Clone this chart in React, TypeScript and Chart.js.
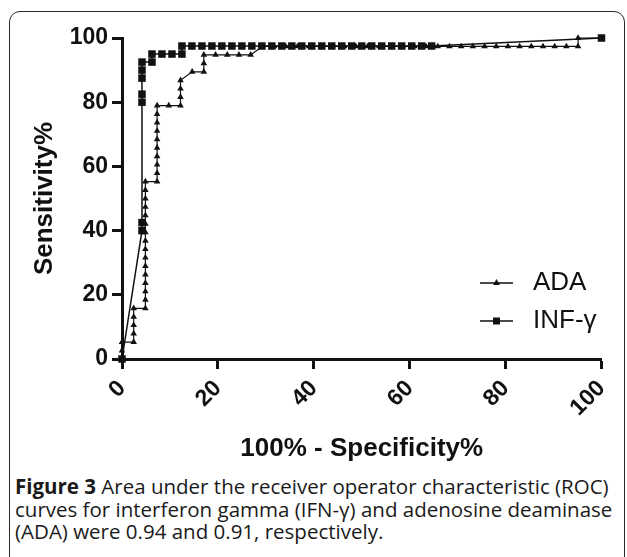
import React, { useEffect, useRef } from 'react';
import { Chart, registerables } from 'chart.js';

Chart.register(...registerables);

// ---- data ----
const seriesNames = ['INF-γ', 'ADA'];

const infX = [0, 4.17, 4.17, 4.17, 4.17, 4.17, 4.17, 4.17, 6.25, 6.25, 8.33, 10.42, 12.5, 12.5, 14.58, 16.67, 18.75, 20.83, 22.92, 25, 27.08, 29.17, 31.25, 33.33, 35.42, 37.5, 39.58, 41.67, 43.75, 45.83, 47.92, 50, 52.08, 54.17, 56.25, 58.33, 60.42, 62.5, 64.58, 100];
const infY = [0, 40, 42.5, 80, 82.5, 87.5, 90, 92.5, 92.5, 95, 95, 95, 95, 97.5, 97.5, 97.5, 97.5, 97.5, 97.5, 97.5, 97.5, 97.5, 97.5, 97.5, 97.5, 97.5, 97.5, 97.5, 97.5, 97.5, 97.5, 97.5, 97.5, 97.5, 97.5, 97.5, 97.5, 97.5, 97.5, 100];

const adaX = [
  0, 0, 0,
  2.44, 2.44, 2.44, 2.44, 2.44,
  4.88, 4.88, 4.88, 4.88, 4.88, 4.88, 4.88, 4.88, 4.88, 4.88, 4.88, 4.88, 4.88, 4.88, 4.88, 4.88,
  7.32, 7.32, 7.32, 7.32, 7.32, 7.32, 7.32, 7.32, 7.32, 7.32,
  9.76,
  12.2, 12.2, 12.2, 12.2,
  14.63,
  17.07, 17.07, 17.07,
  19.51, 21.95, 24.39, 26.83,
  29.27, 31.71, 34.15, 36.59, 39.02, 41.46, 43.9, 46.34, 48.78, 51.22, 53.66, 56.1, 58.54, 60.98, 63.41, 65.85, 68.29, 70.73, 73.17, 75.61, 78.05, 80.49, 82.93, 85.37, 87.8, 90.24, 92.68, 95.12,
  95.12, 100,
];
const adaY = [
  0, 2.63, 5.26,
  5.26, 7.89, 10.53, 13.16, 15.79,
  15.79, 18.42, 21.05, 23.68, 26.32, 28.95, 31.58, 34.21, 36.84, 39.47, 42.11, 44.74, 47.37, 50, 52.63, 55.26,
  55.26, 57.89, 60.53, 63.16, 65.79, 68.42, 71.05, 73.68, 76.32, 78.95,
  78.95,
  78.95, 81.58, 84.21, 86.84,
  89.47,
  89.47, 92.11, 94.74,
  94.74, 94.74, 94.74, 94.74,
  97.37, 97.37, 97.37, 97.37, 97.37, 97.37, 97.37, 97.37, 97.37, 97.37, 97.37, 97.37, 97.37, 97.37, 97.37, 97.37, 97.37, 97.37, 97.37, 97.37, 97.37, 97.37, 97.37, 97.37, 97.37, 97.37, 97.37, 97.37,
  100, 100,
];

const xTicks = [0, 20, 40, 60, 80, 100];
const yTicks = [0, 20, 40, 60, 80, 100];
const xTitle = '100% - Specificity%';
const yTitle = 'Sensitivity%';
const legendOrder = ['ADA', 'INF-γ'];

const FONT = '"Liberation Sans", Arial, Helvetica, sans-serif';
const CAPTION_FONT = '"Open Sans", "Liberation Sans", Arial, sans-serif';
const INK = '#111';

function drawMarker(ctx: CanvasRenderingContext2D, style: string, x: number, y: number) {
  ctx.beginPath();
  if (style === 'rect') {
    ctx.rect(x - 3.5, y - 3.5, 7, 7);
  } else {
    ctx.moveTo(x, y - 4);
    ctx.lineTo(x + 3.4, y + 2);
    ctx.lineTo(x - 3.4, y + 2);
    ctx.closePath();
  }
  ctx.fill();
}

const legendPlugin = {
  id: 'customLegend',
  afterDraw(chart: any) {
    const ctx = chart.ctx as CanvasRenderingContext2D;
    ctx.save();
    legendOrder.forEach((name, i) => {
      const ds = chart.data.datasets.find((d: any) => d.label === name);
      if (!ds) return;
      const y = 283 + i * 38;
      ctx.strokeStyle = INK;
      ctx.fillStyle = INK;
      ctx.lineWidth = 1.5;
      ctx.beginPath();
      ctx.moveTo(480, y);
      ctx.lineTo(513, y);
      ctx.stroke();
      drawMarker(ctx, ds.pointStyle, 496.5, y);
      ctx.font = `26px ${FONT}`;
      ctx.textBaseline = 'middle';
      ctx.textAlign = 'left';
      ctx.fillText(name, 533, y);
    });
    ctx.restore();
  },
};

export default function App() {
  const ref = useRef<HTMLCanvasElement>(null);
  useEffect(() => {
    const pts = (xs: number[], ys: number[]) => xs.map((x, i) => ({ x, y: ys[i] }));
    const axisCommon = {
      type: 'linear' as const,
      min: 0,
      max: 100,
      grid: {
        display: true,
        drawOnChartArea: false,
        drawTicks: true,
        tickLength: 10,
        tickWidth: 3,
        tickColor: INK,
        color: INK,
      },
      border: { display: true, width: 3, color: INK },
    };
    const chart = new Chart(ref.current as HTMLCanvasElement, {
      type: 'scatter',
      data: {
        datasets: [
          {
            label: seriesNames[0],
            data: pts(infX, infY),
            showLine: true,
            borderColor: INK,
            borderWidth: 1.5,
            pointStyle: 'rect',
            pointRadius: 5.3,
            pointBackgroundColor: INK,
            pointBorderColor: INK,
            pointBorderWidth: 0,
            clip: false,
          },
          {
            label: seriesNames[1],
            data: pts(adaX, adaY),
            showLine: true,
            borderColor: INK,
            borderWidth: 1.2,
            pointStyle: 'triangle',
            pointRadius: 3.8,
            pointBackgroundColor: INK,
            pointBorderColor: INK,
            pointBorderWidth: 0,
            clip: false,
          },
        ],
      },
      options: {
        responsive: false,
        animation: false,
        layout: { padding: { top: 38, right: 23, bottom: 0, left: 0 } },
        plugins: { legend: { display: false }, tooltip: { enabled: false } },
        scales: {
          x: {
            ...axisCommon,
            afterBuildTicks: (s: any) => {
              s.ticks = xTicks.map((v) => ({ value: v }));
            },
            afterFit: (s: any) => {
              s.height = 105;
            },
            ticks: {
              maxRotation: 45,
              minRotation: 45,
              padding: 6,
              color: INK,
              font: { family: FONT, size: 23, weight: 'bold' },
            },
            title: {
              display: true,
              text: xTitle,
              color: INK,
              font: { family: FONT, size: 26, weight: 'bold' },
              padding: { top: 0, bottom: 0 },
            },
          },
          y: {
            ...axisCommon,
            afterBuildTicks: (s: any) => {
              s.ticks = yTicks.map((v) => ({ value: v }));
            },
            afterFit: (s: any) => {
              s.width = 122;
            },
            ticks: {
              padding: 4,
              color: INK,
              font: { family: FONT, size: 23, weight: 'bold' },
            },
            title: {
              display: true,
              text: yTitle,
              color: INK,
              font: { family: FONT, size: 26, weight: 'bold' },
              padding: { top: 29, bottom: 0 },
            },
          },
        },
      },
      plugins: [legendPlugin],
    } as any);
    return () => chart.destroy();
  }, []);

  return (
    <div
      style={{
        position: 'absolute',
        left: 0,
        top: 0,
        width: 627,
        height: 557,
        overflow: 'hidden',
        background: '#fff',
      }}
    >
      <div
        style={{
          position: 'absolute',
          left: 9,
          top: 11,
          width: 616,
          height: 600,
          border: '1.5px solid #2a2a2a',
          borderRadius: 11,
          boxSizing: 'border-box',
        }}
      />
      <canvas
        ref={ref}
        width={627}
        height={464}
        style={{ position: 'absolute', left: 0, top: 0, width: 627, height: 464 }}
      />
      <div
        style={{
          position: 'absolute',
          left: 15,
          top: 475,
          fontFamily: CAPTION_FONT,
          fontSize: 20.5,
          lineHeight: '22.5px',
          color: '#1a1a1a',
          whiteSpace: 'nowrap',
        }}
      >
        <b>Figure 3</b> Area under the receiver operator characteristic (ROC)
        <br />
        curves for interferon gamma (IFN-γ) and adenosine deaminase
        <br />
        (ADA) were 0.94 and 0.91, respectively.
      </div>
    </div>
  );
}
